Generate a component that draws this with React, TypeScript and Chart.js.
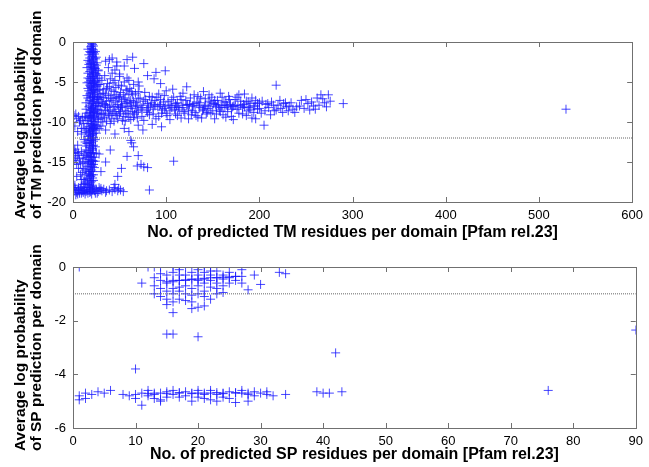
import React, { useEffect, useRef } from "react";
import { Chart, registerables } from "chart.js";

Chart.register(...registerables);

// ---------------- DATA ----------------
type P = [number, number];

// TM plot (top)
const tmXTicks = [0, 100, 200, 300, 400, 500, 600];
const tmYTicks = [-20, -15, -10, -5, 0];
const tmThreshold = -12;

const tmColumn: P[] = [
  [21,-0.3],[20,-0.8],[22,-1.0],[19,-1.3],[23,-1.5],[21,-1.8],[18,-2.0],[24,-2.1],[20,-2.4],[22,-2.6],
  [17,-2.8],[25,-2.9],[19,-3.1],[23,-3.3],[21,-3.5],[18,-3.7],[24,-3.9],[20,-4.1],[22,-4.3],[16,-4.5],
  [26,-4.6],[19,-4.8],[23,-5.0],[21,-5.2],[18,-5.4],[25,-5.5],[20,-5.7],[22,-5.9],[17,-6.1],[24,-6.2],
  [19,-6.4],[23,-6.6],[21,-6.8],[16,-7.0],[26,-7.1],[18,-7.3],[22,-7.5],[20,-7.7],[24,-7.9],[17,-8.1],
  [21,-8.3],[19,-8.5],[23,-8.7],[15,-8.9],[25,-9.0],[18,-9.2],[22,-9.4],[20,-9.6],[16,-9.8],[24,-10.0],
  [19,-10.2],[21,-10.4],[17,-10.6],[23,-10.8],[20,-11.0],[18,-11.2],[22,-11.4],[19,-11.7],[21,-12.0],[17,-12.3],
  [20,-12.6],[22,-12.9],[18,-13.2],[21,-13.5],[16,-13.8],[19,-14.1],[23,-14.4],[17,-14.7],[20,-15.0],[22,-15.3],
  [15,-15.6],[18,-15.9],[21,-16.2],[14,-16.5],[19,-16.8],[16,-17.1],[20,-17.4],[13,-17.7],[18,-18.0],
  [20,-0.5],[21,-1.2],[22,-2.0],[20,-3.0],[21,-4.0],[22,-5.0],[20,-6.0],[21,-7.0],[19,-7.9],[22,-8.8],
  [20,-9.9],[21,-10.9],[19,-12.1],[21,-13.0],[19,-13.9],[21,-14.8],[18,-14.3],[20,-16.0],[17,-16.4],[19,-17.6],
  [23,-4.8],[18,-6.5],[24,-8.4],[17,-9.5],[23,-10.3],[18,-2.5],[24,-3.3],[19,-5.6],[22,-6.9],[20,-8.2],
  [23,-9.3],[18,-10.8],[22,-11.9],[20,-13.8],[22,-14.9],[19,-15.5],[21,-17.0],[22,-3.8],[19,-9.0],[21,-11.5],
];

const tmColumnEdge: P[] = [
  [16,-0.9],[24,-1.2],[17,-1.6],[25,-1.9],[16,-2.3],[26,-2.6],[15,-3.2],[27,-3.6],[16,-3.9],[26,-4.2],
  [15,-5.1],[27,-5.3],[16,-5.8],[26,-6.0],[15,-6.7],[27,-6.9],[14,-7.6],[27,-8.0],[14,-8.4],[26,-8.9],
  [13,-9.3],[27,-9.7],[15,-10.2],[26,-10.6],[14,-11.0],[25,-11.4],[16,-11.8],[24,-12.2],[15,-12.7],[24,-13.1],
  [14,-13.5],[25,-13.9],[15,-14.4],[24,-14.9],[16,-15.2],[23,-15.7],[17,-16.2],[22,-16.6],[15,-17.0],[22,-17.3],
  [16,-17.8],[21,-18.1],
  [20,-1.5],[22,-1.3],[21,-2.2],[19,-2.7],[23,-2.8],[20,-3.4],[22,-3.2],[21,-4.5],[19,-4.3],[22,-5.5],
  [20,-5.2],[21,-6.3],[23,-6.0],[19,-6.9],[21,-7.4],[23,-7.2],[20,-8.6],[22,-8.1],[21,-9.2],[19,-9.4],
  [22,-9.9],[20,-10.5],[22,-10.7],[19,-11.1],[21,-11.6],[20,-12.3],[22,-12.4],[19,-12.9],[21,-13.3],[20,-14.4],
  [22,-13.9],[19,-14.9],[21,-15.6],[20,-15.3],[18,-16.7],[20,-16.6],[19,-16.2],[18,-17.3],[20,-17.9],[17,-15.0],
  [18,-12.6],[17,-11.5],[17,-13.6],[18,-8.8],[24,-11.0],[25,-7.7],[25,-10.4],[24,-5.0],[25,-4.0],[18,-4.6],
  [17,-5.0],[18,-1.2],[19,-0.6],[22,-0.5],[20,-0.2],[21,-0.9],
];

const tmFloor: P[] = [
  [1,-18.6],[3,-18.4],[4,-18.8],[6,-18.5],[7,-18.9],[8,-18.3],[10,-18.6],[11,-18.8],[12,-18.4],[14,-18.7],
  [15,-18.5],[16,-18.9],[18,-18.4],[19,-18.7],[21,-18.5],[23,-18.6],[25,-18.4],[27,-18.7],[29,-18.5],[31,-18.6],
  [33,-18.4],[36,-18.6],[39,-18.5],[42,-18.7],[45,-18.4],[48,-18.6],[51,-18.5],[54,-18.7],[2,-18.2],[5,-19.0],
  [9,-18.1],[13,-19.0],[17,-18.2],[20,-19.0],[24,-18.9],[2,-17.9],[28,-18.2],[35,-18.8],[44,-18.2],[49,-18.3],
  [0.5,-18.5],[3,-19.1],[6,-18.2],[9,-18.9],[12,-18.6],[15,-18.2],[18,-18.8],[22,-18.3],[26,-18.9],[30,-18.3],
];

const tmLeft: P[] = [
  [1,-9.2],[4,-9.6],[7,-10.0],[2,-10.5],[10,-9.4],[12,-10.8],[14,-11.3],[1,-13.6],[3,-13.8],[5,-14.2],
  [2,-14.8],[8,-15.2],[11,-14.5],[6,-15.8],[10,-16.3],[13,-15.0],[12,-17.2],[4,-16.8],[9,-11.5],[13,-12.5],
  [0.5,-13.9],[2,-13.4],[3,-14.5],[4,-15.3],[6,-13.9],[7,-14.6],[9,-13.7],[10,-15.0],[12,-14.0],[13,-16.0],
  [11,-15.8],[8,-16.6],[5,-12.9],[3,-9.0],[6,-9.3],[8,-9.8],[11,-10.2],[13,-9.5],[5,-11.2],[9,-10.8],
  [12,-12.2],[14,-13.0],[14,-14.2],[13,-17.5],[11,-17.8],[9,-17.2],
];

const tmCluster: P[] = [
  [26,-6.8],[27,-7.6],[28,-6.0],[28,-9.0],[29,-8.0],[29,-5.3],[30,-6.9],[30,-9.6],[31,-8.9],[31,-4.8],
  [32,-7.7],[32,-10.0],[33,-5.9],[33,-7.0],[34,-9.4],[34,-4.2],[35,-6.5],[35,-8.6],[36,-7.4],[36,-9.9],
  [37,-5.2],[37,-8.2],[38,-6.7],[38,-3.2],[39,-9.2],[39,-5.6],[40,-8.5],[40,-4.6],[41,-7.3],[41,-6.0],
  [42,-9.0],[42,-3.9],[43,-5.1],[43,-7.1],[44,-8.7],[44,-9.9],[45,-6.6],[45,-4.8],[46,-8.9],[46,-5.7],
  [47,-6.9],[47,-3.0],[48,-7.8],[48,-9.6],[49,-5.4],[49,-7.0],[50,-9.0],[50,-4.0],[51,-6.3],[51,-8.7],
  [52,-7.4],[52,-5.5],[53,-8.1],[54,-6.6],[54,-9.3],[55,-5.0],[56,-7.0],[56,-9.9],[57,-6.0],[57,-8.9],
  [58,-7.5],[58,-4.5],[59,-8.1],[60,-6.5],[60,-9.4],[61,-5.8],[62,-7.3],[62,-9.7],[63,-6.2],[64,-8.7],
  [65,-5.3],[65,-7.4],[66,-9.0],[67,-6.4],[68,-7.6],[69,-9.5],[70,-6.2],[70,-8.6],
];

const tmBand: P[] = [
  [28,-7.2],[30,-8.5],[32,-6.4],[33,-9.1],[35,-7.8],[36,-5.8],[38,-8.9],[40,-7.0],[41,-9.6],[43,-8.1],
  [44,-6.2],[46,-7.5],[47,-9.2],[49,-8.4],[50,-6.8],[52,-7.9],[53,-9.8],[55,-7.2],[56,-8.6],[58,-6.0],
  [59,-9.0],[61,-7.6],[62,-8.3],[64,-6.6],[65,-9.4],[67,-7.9],[68,-8.8],[70,-7.1],[71,-5.5],[73,-8.2],
  [74,-9.3],[76,-7.4],[77,-6.3],[79,-8.6],[80,-7.7],[82,-9.1],[83,-8.0],[85,-6.9],[86,-8.4],[88,-7.3],
  [89,-9.6],[91,-8.1],[92,-6.5],[94,-7.8],[95,-8.9],[97,-7.5],[98,-8.3],[100,-6.1],[101,-9.2],[103,-7.9],
  [104,-8.6],[106,-7.2],[107,-5.9],[109,-8.4],[110,-9.0],[112,-7.6],[113,-8.2],[115,-6.8],[116,-9.5],[118,-7.9],
  [119,-8.7],[121,-7.3],[122,-5.6],[124,-8.5],[125,-7.8],[127,-9.1],[128,-8.0],[130,-6.6],[131,-8.8],[133,-7.5],
  [134,-9.4],[136,-8.2],[137,-7.0],[139,-8.6],[140,-6.2],[142,-7.9],[143,-9.0],[145,-8.3],[146,-7.4],[148,-8.9],
  [149,-6.9],[151,-7.7],[152,-9.6],[154,-8.1],[155,-7.3],[157,-8.5],[158,-6.4],[160,-7.9],[161,-9.1],[163,-8.2],
  [164,-7.5],[166,-8.7],[167,-6.8],[169,-7.8],[170,-9.3],[172,-8.0],[174,-7.2],[176,-8.4],[178,-6.6],[180,-7.9],
  [182,-9.0],[184,-8.1],[186,-7.4],[188,-8.6],[190,-7.7],[192,-9.5],[194,-8.0],[196,-7.3],[198,-8.4],[200,-7.6],
  [202,-8.9],[205,-10.4],[207,-7.8],[210,-8.2],[213,-7.5],[216,-8.6],[218,-5.4],[220,-7.9],[223,-8.3],[226,-7.7],
  [229,-8.1],[232,-8.0],[236,-8.4],[240,-8.1],[245,-7.3],[250,-7.2],[254,-8.5],[258,-8.0],[262,-7.0],[266,-6.6],
  [270,-7.6],[272,-8.1],[276,-7.4],[290,-7.7],
  [34,-8.0],[39,-7.9],[45,-8.1],[51,-8.2],[57,-7.7],[63,-8.0],[69,-8.1],[75,-7.9],[81,-8.2],[87,-7.8],
  [93,-8.0],[99,-8.1],[105,-7.9],[111,-8.0],[117,-8.2],[123,-7.8],[129,-8.0],[135,-7.9],[141,-8.1],[147,-8.0],
  [153,-7.8],[159,-8.2],[165,-7.9],[171,-8.1],[177,-8.0],[183,-7.8],[189,-8.2],[195,-8.0],
  [26,-5.5],[27,-9.5],[28,-10.8],[29,-6.5],[31,-7.5],[26,-8.5],[27,-3.5],[28,-4.5],
];

const tmBandExtra: P[] = [
  [72,-7.0],[74,-8.4],[76,-9.8],[78,-7.2],[80,-8.8],[82,-6.8],[84,-7.6],[86,-9.0],[88,-8.0],[90,-6.9],
  [92,-9.3],[94,-7.2],[96,-8.5],[98,-6.7],[100,-8.9],[102,-7.4],[104,-9.7],[106,-8.2],[108,-6.9],[110,-7.7],
  [112,-9.2],[114,-8.5],[116,-7.2],[118,-6.4],[120,-8.9],[122,-7.9],[124,-9.6],[126,-7.0],[128,-8.6],[130,-7.7],
  [132,-9.2],[134,-6.8],[136,-7.6],[138,-9.5],[140,-8.4],[142,-7.1],[144,-8.8],[146,-6.6],[148,-7.6],[150,-8.6],
  [152,-7.3],[154,-9.0],[156,-7.9],[158,-8.7],[160,-6.9],[162,-7.5],[164,-9.4],[166,-8.0],[168,-7.2],[170,-8.4],
  [172,-9.7],[174,-7.9],[176,-6.9],[178,-8.9],[180,-7.4],[182,-8.2],[184,-6.5],[186,-9.2],[188,-7.5],[190,-8.4],
  [192,-7.0],[194,-8.8],[196,-9.6],[198,-7.7],[200,-8.3],[203,-7.4],[206,-8.6],[209,-7.7],[212,-9.1],[215,-7.9],
  [218,-8.5],[222,-7.3],[225,-8.8],[228,-7.6],[231,-8.6],[234,-7.6],[238,-8.8],[243,-8.0],[248,-8.3],[252,-7.7],
  [256,-7.5],[260,-8.4],[264,-7.9],[268,-7.1],[274,-6.6],
];

const tmScatter: P[] = [
  [42,-2.0],[47,-2.5],[64,-1.9],[66,-3.3],[76,-2.7],[89,-3.8],[99,-3.6],[87,-4.6],[39,-2.2],[35,-2.4],
  [45,-3.5],[50,-4.3],[55,-3.0],[60,-4.8],[70,-5.0],[80,-4.2],[58,-2.2],[94,-5.2],
  [62,-12.3],[65,-13.1],[70,-14.2],[73,-15.3],[76,-15.6],[58,-14.3],[52,-15.8],[48,-16.8],[45,-17.8],[40,-13.5],
  [35,-15.0],[30,-16.2],[28,-14.0],[108,-14.9],[82,-18.5],[63,-12.6],[69,-15.5],[80,-15.7],
  [30,-10.5],[35,-11.0],[40,-10.2],[45,-11.5],[55,-10.8],[60,-11.2],[70,-10.4],[75,-11.0],[85,-10.3],[95,-10.6],
  [529,-8.4],
];

// SP plot (bottom)
const spXTicks = [0, 10, 20, 30, 40, 50, 60, 70, 80, 90];
const spYTicks = [-6, -4, -2, 0];
const spThreshold = -1;

const spUpper: P[] = [
  [1,0],[12,0],[13,0],[14,0],[16,0],[17,0],[18,0],[20,0],[21,0],[22,0],
  [11,-0.6],[13,-0.4],[13,-0.7],[13,-1.0],[14,-0.5],[14,-0.8],[14,-1.1],[15,-0.3],[15,-0.6],[15,-0.9],
  [15,-1.2],[15,-1.4],[16,-0.2],[16,-0.55],[16,-0.8],[16,-1.0],[16,-1.3],[17,-0.1],[17,-0.5],[17,-0.9],
  [17,-1.2],[18,-0.3],[18,-0.5],[18,-0.7],[18,-1.0],[19,-0.2],[19,-0.45],[19,-0.8],[19,-1.05],[19,-1.3],
  [19,-1.55],[20,-0.1],[20,-0.5],[20,-0.7],[20,-1.0],[20,-1.5],[21,-0.2],[21,-0.45],[21,-0.6],[21,-0.9],
  [21,-1.45],[22,-0.3],[22,-0.5],[22,-0.75],[22,-1.2],[23,-0.15],[23,-0.4],[23,-0.6],[23,-1.0],[24,-0.3],
  [24,-0.45],[24,-0.7],[24,-0.95],[25,-0.2],[25,-0.4],[25,-0.6],[26,-0.35],[26,-0.5],[27,-0.1],[27,-0.35],
  [27,-0.6],[28,-0.85],[29,-0.3],[30,-0.65],[33,-0.2],[34,-0.25],
  [15,-0.55],[16,-0.5],[17,-0.5],[18,-0.48],[19,-0.47],[20,-0.45],[21,-0.42],[22,-0.4],[23,-0.4],[24,-0.38],
  [25,-0.37],[26,-0.35],[14,-0.25],[17,-0.75],[18,-1.25],[20,-0.3],[22,-0.15],[23,-0.8],[21,-1.1],[17,-0.3],
];

const spMiddle: P[] = [
  [16,-1.7],[15,-2.5],[16,-2.5],[20,-2.6],[10,-3.8],[42,-3.2],[90,-2.35],
];

const spLower: P[] = [
  [1,-4.8],[1,-4.95],[2,-4.7],[2,-4.9],[3,-4.75],[4,-4.65],[5,-4.7],[6,-4.6],[8,-4.75],[9,-4.8],
  [10,-4.9],[10,-4.75],[11,-4.7],[11,-5.15],[12,-4.8],[12,-4.6],[13,-4.75],[13,-4.9],[14,-4.7],[14,-4.95],
  [14,-5.0],[15,-4.65],[15,-4.85],[16,-4.75],[16,-4.6],[17,-4.7],[17,-4.85],[18,-4.65],[18,-4.8],[19,-4.7],
  [19,-5.0],[20,-4.7],[20,-4.6],[20,-4.85],[21,-4.75],[21,-4.9],[22,-4.7],[22,-4.95],[22,-4.6],[23,-4.75],
  [23,-5.0],[24,-4.7],[24,-4.85],[25,-4.65],[25,-4.9],[26,-4.7],[26,-5.05],[27,-4.7],[27,-4.6],[28,-4.75],
  [28,-5.0],[29,-4.65],[29,-4.8],[30,-4.7],[31,-4.65],[31,-4.75],[32,-4.8],[34,-4.75],[39,-4.65],[40,-4.7],
  [41,-4.7],[43,-4.65],[76,-4.6],
  [12,-4.72],[13,-4.7],[15,-4.72],[17,-4.68],[19,-4.72],[21,-4.7],[23,-4.68],[24,-4.72],[26,-4.68],[28,-4.7],
];

const tmYTitle = ["Average log probability", "of TM prediction per domain"];
const tmXTitle = "No. of predicted TM residues per domain [Pfam rel.23]";
const spYTitle = ["Average log probability", "of SP prediction per domain"];
const spXTitle = "No. of predicted SP residues per domain [Pfam rel.23]";

// ---------------- CHART ----------------
const FONT = "'Liberation Sans', Arial, sans-serif";
const W = 649;
const H = 467;

interface Cfg {
  id: string;
  groups: P[][];
  xTicks: number[];
  yTicks: number[];
  threshold: number;
  yTitle: string[];
  xTitle: string;
  area: { left: number; right: number; top: number; bottom: number };
  yTitleStart: number;
  xTitleY: number;
}

function toPts(arr: P[]) {
  return arr.map(([x, y]) => ({ x, y }));
}

function makeChart(canvas: HTMLCanvasElement, c: Cfg) {
  const xMin = c.xTicks[0];
  const xMax = c.xTicks[c.xTicks.length - 1];
  const yMin = c.yTicks[0];
  const yMax = c.yTicks[c.yTicks.length - 1];

  const boxPlugin = {
    id: "box_" + c.id,
    afterDraw(chart: any) {
      const ctx = chart.ctx;
      const a = chart.chartArea;
      const xs = chart.scales.x;
      const ys = chart.scales.y;
      ctx.save();
      ctx.strokeStyle = "#707070";
      ctx.lineWidth = 1;
      ctx.strokeRect(Math.round(a.left) + 0.5, Math.round(a.top) + 0.5, Math.round(a.right - a.left), Math.round(a.bottom - a.top));
      const tl = 5;
      ctx.beginPath();
      for (const v of c.xTicks) {
        const px = Math.round(xs.getPixelForValue(v)) + 0.5;
        ctx.moveTo(px, a.bottom);
        ctx.lineTo(px, a.bottom - tl);
        ctx.moveTo(px, a.top);
        ctx.lineTo(px, a.top + tl);
      }
      for (const v of c.yTicks) {
        const py = Math.round(ys.getPixelForValue(v)) + 0.5;
        ctx.moveTo(a.left, py);
        ctx.lineTo(a.left + tl, py);
        ctx.moveTo(a.right, py);
        ctx.lineTo(a.right - tl, py);
      }
      ctx.stroke();

      // titles
      ctx.fillStyle = "#000";
      ctx.font = `bold 16px ${FONT}`;
      ctx.textAlign = "center";
      ctx.textBaseline = "middle";
      ctx.fillText(c.xTitle, (a.left + a.right) / 2, c.xTitleY);
      ctx.font = `bold 15.5px ${FONT}`;
      const lineX = [21, 37];
      c.yTitle.forEach((t, i) => {
        ctx.save();
        ctx.translate(lineX[i], c.yTitleStart);
        ctx.rotate(-Math.PI / 2);
        ctx.textAlign = "left";
        ctx.fillText(t, 0, 0);
        ctx.restore();
      });
      ctx.restore();
    },
  };

  const pointDs = c.groups.map((g) => ({
    data: toPts(g),
    pointStyle: "cross",
    pointRadius: 4.5,
    borderWidth: 1,
    borderColor: "rgba(25,25,255,0.8)",
    backgroundColor: "rgba(25,25,255,0.8)",
    showLine: false,
  }));

  const thrDs = {
    data: [
      { x: xMin, y: c.threshold },
      { x: xMax, y: c.threshold },
    ],
    showLine: true,
    pointRadius: 0,
    borderColor: "#666",
    borderWidth: 1,
    borderDash: [1, 1],
    fill: false,
  };

  return new Chart(canvas, {
    type: "scatter",
    data: { datasets: [thrDs as any, ...pointDs] },
    plugins: [boxPlugin],
    options: {
      responsive: false,
      animation: false,
      events: [],
      layout: {
        padding: { left: 0, top: c.area.top, right: W - c.area.right, bottom: 0 },
      },
      plugins: { legend: { display: false }, tooltip: { enabled: false } },
      scales: {
        x: {
          type: "linear",
          min: xMin,
          max: xMax,
          afterFit: (s: any) => {
            s.height = H - c.area.bottom;
          },
          afterBuildTicks: (s: any) => {
            s.ticks = c.xTicks.map((v) => ({ value: v }));
          },
          grid: { display: false, drawTicks: false },
          border: { display: false },
          ticks: { color: "#000", font: { family: FONT, size: 13 }, padding: 6, maxRotation: 0, autoSkip: false },
        },
        y: {
          type: "linear",
          min: yMin,
          max: yMax,
          afterFit: (s: any) => {
            s.width = c.area.left;
          },
          afterBuildTicks: (s: any) => {
            s.ticks = c.yTicks.map((v) => ({ value: v }));
          },
          grid: { display: false, drawTicks: false },
          border: { display: false },
          ticks: { color: "#000", font: { family: FONT, size: 13 }, padding: 7, autoSkip: false },
        },
      },
    } as any,
  });
}

export default function App() {
  const topRef = useRef<HTMLCanvasElement>(null);
  const botRef = useRef<HTMLCanvasElement>(null);

  useEffect(() => {
    const top = makeChart(topRef.current!, {
      id: "tm",
      groups: [tmColumn, tmColumnEdge, tmFloor, tmLeft, tmCluster, tmBand, tmBandExtra, tmScatter],
      xTicks: tmXTicks,
      yTicks: tmYTicks,
      threshold: tmThreshold,
      yTitle: tmYTitle,
      xTitle: tmXTitle,
      area: { left: 73, right: 638, top: 42, bottom: 202 },
      yTitleStart: 219,
      xTitleY: 233,
    });
    const bot = makeChart(botRef.current!, {
      id: "sp",
      groups: [spUpper, spMiddle, spLower],
      xTicks: spXTicks,
      yTicks: spYTicks,
      threshold: spThreshold,
      yTitle: spYTitle,
      xTitle: spXTitle,
      area: { left: 73, right: 638, top: 267, bottom: 428 },
      yTitleStart: 451,
      xTitleY: 455,
    });
    return () => {
      top.destroy();
      bot.destroy();
    };
  }, []);

  const st: React.CSSProperties = { position: "absolute", left: 0, top: 0 };
  return (
    <div style={{ position: "fixed", left: 0, top: 0, width: W, height: H, background: "#fff" }}>
      <canvas ref={topRef} width={W} height={H} style={st} />
      <canvas ref={botRef} width={W} height={H} style={st} />
    </div>
  );
}
